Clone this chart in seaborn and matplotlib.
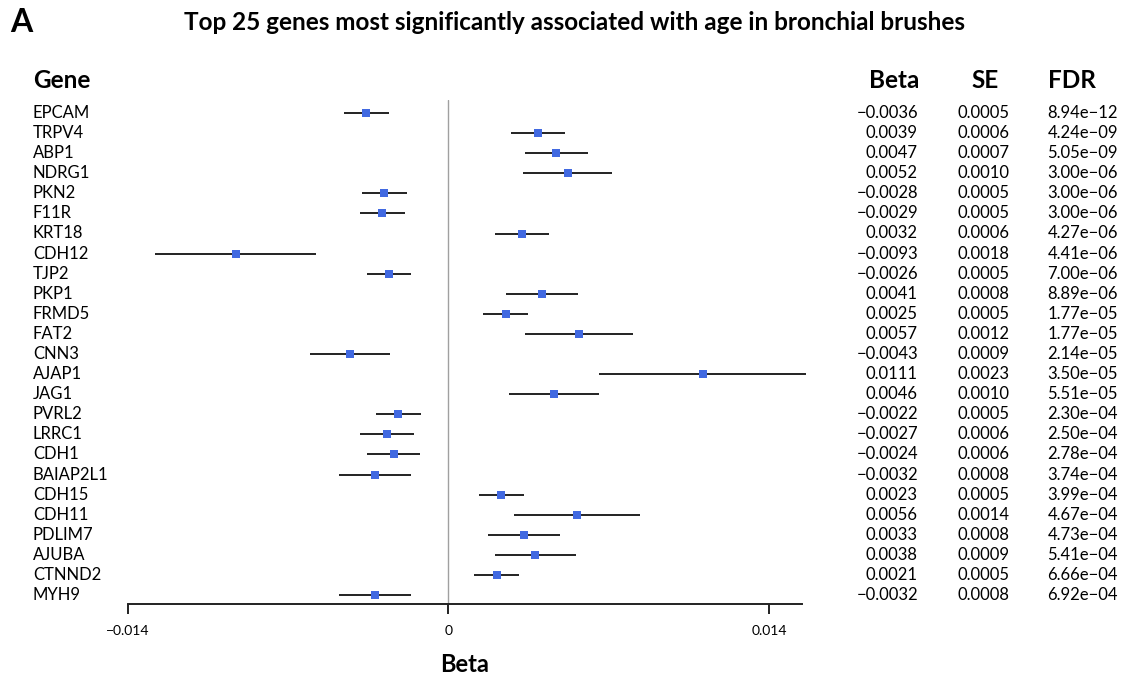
import numpy as np
import pandas as pd
import matplotlib
matplotlib.use("Agg")
import matplotlib.pyplot as plt
import matplotlib.transforms as mtransforms
import seaborn as sns

sns.set_style("white")
plt.rcParams["font.family"] = ["Lato", "DejaVu Sans"]

# ------------------------------------------------------------
# data
# ------------------------------------------------------------
genes = ["EPCAM", "TRPV4", "ABP1", "NDRG1", "PKN2", "F11R", "KRT18", "CDH12",
         "TJP2", "PKP1", "FRMD5", "FAT2", "CNN3", "AJAP1", "JAG1", "PVRL2",
         "LRRC1", "CDH1", "BAIAP2L1", "CDH15", "CDH11", "PDLIM7", "AJUBA",
         "CTNND2", "MYH9"]
beta = [-0.0036, 0.0039, 0.0047, 0.0052, -0.0028, -0.0029, 0.0032, -0.0093,
        -0.0026, 0.0041, 0.0025, 0.0057, -0.0043, 0.0111, 0.0046, -0.0022,
        -0.0027, -0.0024, -0.0032, 0.0023, 0.0056, 0.0033, 0.0038, 0.0021,
        -0.0032]
se = [0.0005, 0.0006, 0.0007, 0.0010, 0.0005, 0.0005, 0.0006, 0.0018,
      0.0005, 0.0008, 0.0005, 0.0012, 0.0009, 0.0023, 0.0010, 0.0005,
      0.0006, 0.0006, 0.0008, 0.0005, 0.0014, 0.0008, 0.0009, 0.0005,
      0.0008]
fdr = ["8.94e-12", "4.24e-09", "5.05e-09", "3.00e-06", "3.00e-06", "3.00e-06",
       "4.27e-06", "4.41e-06", "7.00e-06", "8.89e-06", "1.77e-05", "1.77e-05",
       "2.14e-05", "3.50e-05", "5.51e-05", "2.30e-04", "2.50e-04", "2.78e-04",
       "3.74e-04", "3.99e-04", "4.67e-04", "4.73e-04", "5.41e-04", "6.66e-04",
       "6.92e-04"]
x_ticks = [-0.014, 0, 0.014]

df = pd.DataFrame({"gene": genes, "beta": beta, "se": se, "fdr": fdr})
df["row"] = np.arange(len(df))
df["lo"] = df["beta"] - 1.96 * df["se"]
df["hi"] = df["beta"] + 1.96 * df["se"]

W, H = 1128, 677
fig = plt.figure(figsize=(W / 100, H / 100), dpi=100)
# axes spans px 128..802 horizontally, 100..604 vertically
ax = fig.add_axes([128 / W, 1 - 604 / H, (802 - 128) / W, (604 - 100) / H])

ax.axvline(0, color="#a0a0a0", lw=1.0, zorder=1)
ax.hlines(df["row"], df["lo"], df["hi"], color="#222222", lw=1.4, zorder=2,
          clip_on=False)
sns.scatterplot(data=df, x="beta", y="row", marker="s", s=32, color="#4169e1",
                edgecolor="#4169e1", linewidth=0, zorder=3, ax=ax, legend=False)

step = (595 - 113) / 24
ax.set_xlim(-0.014, -0.014 + 0.028 * (802 - 128) / (769 - 128))
ax.set_ylim(24 + (604 - 595) / step, -(113 - 100) / step)

for s in ["top", "right", "left"]:
    ax.spines[s].set_visible(False)
ax.spines["bottom"].set_color("#222222")
ax.spines["bottom"].set_linewidth(1.4)
ax.set_yticks([])
ax.set_xticks(x_ticks)
ax.set_xticklabels(["\u22120.014", "0", "0.014"])
ax.tick_params(axis="x", direction="out", length=7, width=1.4, color="#222222",
               labelsize=10, pad=8, bottom=True, labelcolor="black")
ax.set_xlabel("Beta", fontsize=17, fontweight="bold", labelpad=12, color="black")
ax.set_ylabel("")

# text columns: x in figure fraction, y in data rows
tr = mtransforms.blended_transform_factory(fig.transFigure, ax.transData)
fs = 12
for _, r in df.iterrows():
    b = f"{r['beta']:.4f}".replace("-", "\u2212")
    ax.text(33 / W, r["row"], r["gene"], transform=tr, ha="left", va="center",
            fontsize=fs, color="black")
    ax.text(918 / W, r["row"], b, transform=tr, ha="right", va="center",
            fontsize=fs, color="black")
    ax.text(1010 / W, r["row"], f"{r['se']:.4f}", transform=tr, ha="right",
            va="center", fontsize=fs, color="black")
    ax.text(1118 / W, r["row"], r["fdr"].replace("-", "\u2212"), transform=tr,
            ha="right", va="center", fontsize=fs, color="black")

hy = 1 - 81 / H
hdr = dict(va="center", fontsize=17.5, fontweight="bold", color="black")
fig.text(33 / W, hy, "Gene", ha="left", **hdr)
fig.text(894 / W, hy, "Beta", ha="center", **hdr)
fig.text(985 / W, hy, "SE", ha="center", **hdr)
fig.text(1072 / W, hy, "FDR", ha="center", **hdr)

fig.text(10 / W, 1 - 22 / H, "A", ha="left", va="center", fontsize=23,
         fontweight="bold", color="black")
fig.text(575 / W, 1 - 23 / H,
         "Top 25 genes most significantly associated with age in bronchial brushes",
         ha="center", va="center", fontsize=17.5, fontweight="bold", color="black")

fig.savefig("out.png", dpi=100)
